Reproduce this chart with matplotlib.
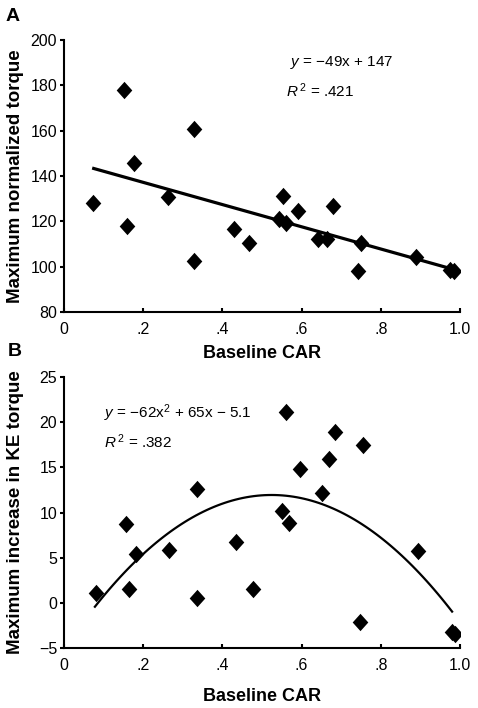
"""
Two stacked scatter panels: baseline CAR against maximum normalized torque (A)
and against maximum increase in KE torque (B), with their fitted trends.
"""

###############################################################################
# Import packages:
import numpy as np
import matplotlib
matplotlib.use("Agg")
import matplotlib.pyplot as plt

###############################################################################
# Data:

# Panel A
car_a = [0.074, 0.152, 0.158, 0.177, 0.263, 0.329, 0.329, 0.429, 0.468, 0.544,
         0.554, 0.560, 0.592, 0.642, 0.663, 0.678, 0.749, 0.743, 0.889, 0.975,
         0.985]
torque_a = [128, 178, 118, 145.6, 130.6, 160.7, 102.5, 116.6, 110.3, 121.2,
            131.2, 119.4, 124.7, 112.2, 112.2, 126.9, 110.6, 98.1, 104.4, 98.5,
            98.0]
fit_a = [-49, 147]          # y = -49x + 147
fit_a_range = (0.075, 0.98)

# Panel B
car_b = [0.081, 0.157, 0.163, 0.183, 0.266, 0.335, 0.335, 0.434, 0.476, 0.550,
         0.560, 0.569, 0.596, 0.651, 0.669, 0.684, 0.756, 0.747, 0.895, 0.979,
         0.988]
ke_b = [1.15, 8.7, 1.6, 5.4, 5.9, 12.6, 0.6, 6.7, 1.5, 10.2,
        21.1, 8.8, 14.8, 12.2, 15.9, 18.9, 17.5, -2.1, 5.8, -3.25,
        -3.4]
fit_b = [-62, 65, -5.1]     # y = -62x^2 + 65x - 5.1
fit_b_range = (0.078, 0.98)

x_ticks = [0, 0.2, 0.4, 0.6, 0.8, 1.0]
x_ticklabels = ["0", ".2", ".4", ".6", ".8", "1.0"]
y_ticks_a = [80, 100, 120, 140, 160, 180, 200]
y_ticks_b = [-5, 0, 5, 10, 15, 20, 25]

###############################################################################
# Plot:

plt.rcParams["font.family"] = ["Liberation Sans", "DejaVu Sans"]
plt.rcParams["mathtext.fontset"] = "custom"
plt.rcParams["mathtext.rm"] = "Liberation Sans"
plt.rcParams["mathtext.it"] = "Liberation Sans:italic"

fig = plt.figure(figsize=(4.78, 7.08), dpi=100)
ax_a = fig.add_axes([0.1339, 0.5593, 0.8285, 0.3842])
ax_b = fig.add_axes([0.1339, 0.0843, 0.8285, 0.3836])

# Slightly tall diamond marker
diamond = [(0, 1), (0.9, 0), (0, -1), (-0.9, 0), (0, 1)]


def style_axes(ax, yticks, ylabel):
    ax.set_xlim(0, 1.0)
    ax.set_ylim(yticks[0], yticks[-1])
    ax.set_xticks(x_ticks)
    ax.set_xticklabels(x_ticklabels)
    ax.set_yticks(yticks)
    ax.spines["top"].set_visible(False)
    ax.spines["right"].set_visible(False)
    for side in ("left", "bottom"):
        ax.spines[side].set_linewidth(1.5)
    ax.tick_params(axis="x", direction="in", length=3, width=1.5,
                   pad=7, labelsize=11.5)
    ax.tick_params(axis="y", direction="out", length=3, width=1.5,
                   pad=2, labelsize=11.5)
    ax.set_xlabel("Baseline CAR", fontsize=13, fontweight="bold")
    ax.set_ylabel(ylabel, fontsize=13.5, fontweight="bold")
    ax.yaxis.set_label_coords(-0.101, 0.5)
    ax.patch.set_visible(False)


# Panel A
ax_a.scatter(car_a, torque_a, marker=diamond, s=12.5 ** 2, color="black",
             linewidths=0, zorder=3)
xa = np.linspace(*fit_a_range, 50)
ax_a.plot(xa, np.polyval(fit_a, xa), color="black", lw=2.3, zorder=2)
style_axes(ax_a, y_ticks_a, "Maximum normalized torque")
ax_a.xaxis.set_label_coords(0.5, -0.121)
ax_a.text(0.571, 0.917, r"$y$ = −49x + 147", transform=ax_a.transAxes,
          fontsize=11, va="center", ha="left")
ax_a.text(0.561, 0.8125, r"$R^{\,2}$ = .421", transform=ax_a.transAxes,
          fontsize=11, va="center", ha="left")

# Panel B
ax_b.scatter(car_b, ke_b, marker=diamond, s=12.5 ** 2, color="black",
             linewidths=0, zorder=3)
xb = np.linspace(*fit_b_range, 100)
ax_b.plot(xb, np.polyval(fit_b, xb), color="black", lw=1.6, zorder=2)
style_axes(ax_b, y_ticks_b, "Maximum increase in KE torque")
ax_b.xaxis.set_label_coords(0.5, -0.146)
ax_b.text(0.101, 0.866, r"$y$ = −62x$^{2}$ + 65x − 5.1",
          transform=ax_b.transAxes, fontsize=11, va="center", ha="left")
ax_b.text(0.101, 0.761, r"$R^{\,2}$ = .382", transform=ax_b.transAxes,
          fontsize=11, va="center", ha="left")

# Panel letters
fig.text(6 / 478, 1 - 8 / 708, "A", fontsize=14, fontweight="bold",
         ha="left", va="top")
fig.text(8 / 478, 1 - 343 / 708, "B", fontsize=14, fontweight="bold",
         ha="left", va="top")

fig.savefig("out.png", dpi=100)
